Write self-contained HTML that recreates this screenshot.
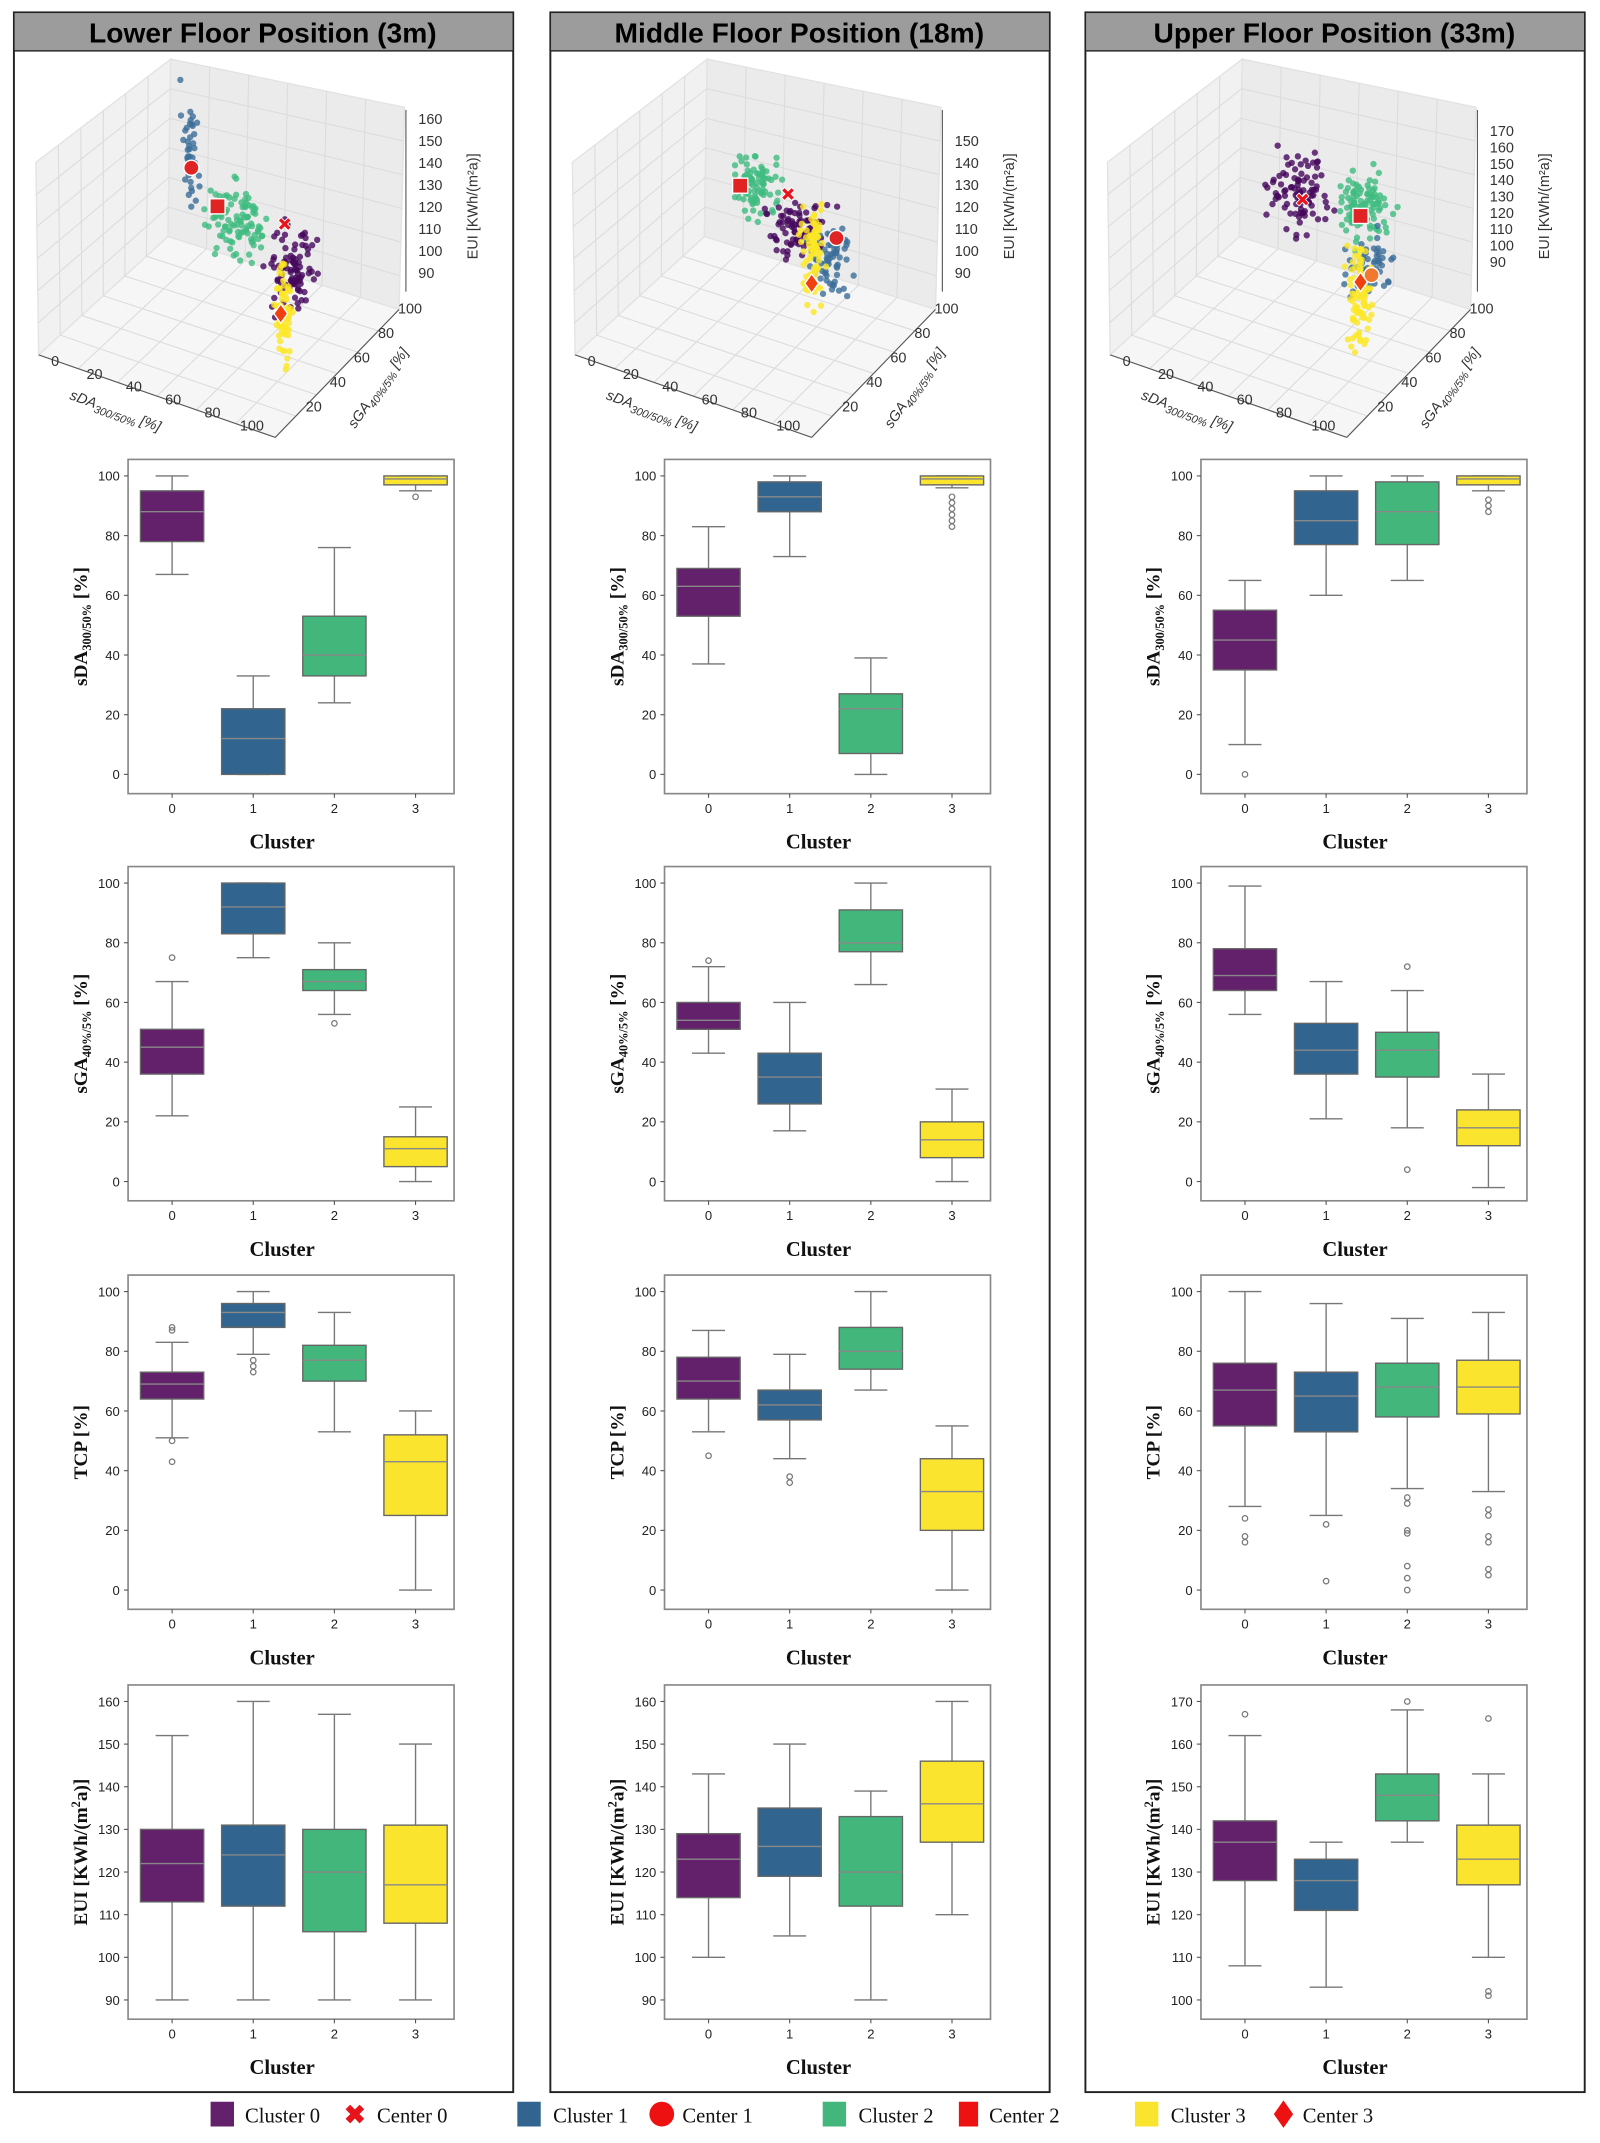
<!DOCTYPE html>
<html><head><meta charset="utf-8">
<style>
html,body{margin:0;padding:0;background:#fff;}
svg{display:block;}
.tk{font-family:"Liberation Sans",sans-serif;font-size:9.5px;fill:#222;}
.cl{font-family:"Liberation Serif",serif;font-size:15px;font-weight:bold;fill:#111;}
.yl{font-family:"Liberation Serif",serif;font-size:14px;font-weight:bold;fill:#111;}
.hd{font-family:"Liberation Sans",sans-serif;font-size:20.5px;font-weight:bold;fill:#000;}
.lg{font-family:"Liberation Serif",serif;font-size:15px;fill:#111;}
.t3{font-family:"Liberation Sans",sans-serif;font-size:10.5px;fill:#333;}
</style></head>
<body>
<svg id="s" xmlns="http://www.w3.org/2000/svg" width="1600" height="2143" viewBox="0 0 1163 1558">
<rect width="1163" height="1558" fill="#fff"/>
<rect x="10" y="9" width="363" height="1512" fill="none" stroke="#222" stroke-width="1.4"/>
<rect x="400" y="9" width="363" height="1512" fill="none" stroke="#222" stroke-width="1.4"/>
<rect x="789" y="9" width="363" height="1512" fill="none" stroke="#222" stroke-width="1.4"/>
<rect x="10" y="9" width="363" height="28" fill="#9c9c9c" stroke="#222" stroke-width="1"/>
<rect x="400" y="9" width="363" height="28" fill="#9c9c9c" stroke="#222" stroke-width="1"/>
<rect x="789" y="9" width="363" height="28" fill="#9c9c9c" stroke="#222" stroke-width="1"/>
<text class="hd" x="191" y="31" text-anchor="middle">Lower Floor Position (3m)</text>
<text class="hd" x="581" y="31" text-anchor="middle">Middle Floor Position (18m)</text>
<text class="hd" x="970" y="31" text-anchor="middle">Upper Floor Position (33m)</text>
<g id="g"></g>
<g>
<rect x="153" y="1528" width="17" height="18" fill="#63206b"/><text class="lg" x="178" y="1543">Cluster 0</text>
<text x="250" y="1544" font-family="Liberation Sans,sans-serif" font-size="19" font-weight="bold" fill="#e8141b">✖</text><text class="lg" x="274" y="1543">Center 0</text>
<rect x="376" y="1528" width="17" height="18" fill="#31658f"/><text class="lg" x="402" y="1543">Cluster 1</text>
<circle cx="481" cy="1537" r="9" fill="#ee1111"/><text class="lg" x="496" y="1543">Center 1</text>
<rect x="598" y="1528" width="17" height="18" fill="#43b67c"/><text class="lg" x="624" y="1543">Cluster 2</text>
<rect x="697" y="1528" width="14" height="18" fill="#ee1111"/><text class="lg" x="719" y="1543">Center 2</text>
<rect x="825" y="1528" width="17" height="18" fill="#fbe42d"/><text class="lg" x="851" y="1543">Cluster 3</text>
<polygon points="933,1527 940,1537 933,1547 926,1537" fill="#ee1111"/><text class="lg" x="947" y="1543">Center 3</text>
</g>
</svg>
<script>
var NS="http://www.w3.org/2000/svg",G=document.getElementById("g");
function el(t,a,txt){var e=document.createElementNS(NS,t);for(var k in a)e.setAttribute(k,a[k]);if(txt!=null)e.textContent=txt;G.appendChild(e);return e;}
function html(s){var d=document.createElementNS(NS,"g");d.innerHTML=s;G.appendChild(d);}
var C=["#63206b","#31658f","#43b67c","#fbe42d"];
var SC=["#46085c","#3b6e98","#3fbb80","#fde725"];
var seed=7;function rnd(){seed=(seed*16807)%2147483647;return seed/2147483647;}
function gauss(){return (rnd()+rnd()+rnd()-1.5);}
function scatter(ox,zt,zlab,clusters,centers){
  var A=[28+ox,258],B=[200+ox,318],Cc=[290+ox,225],D=[122+ox,172],Dt=[124+ox,43],At=[26+ox,118],Ct=[294+ox,78];
  function P(p){return p.map(function(q){return q[0]+","+q[1];}).join(" ");}
  el("polygon",{points:P([A,D,Dt,At]),fill:"#f1f1f1",stroke:"#e3e3e3"});
  el("polygon",{points:P([D,Cc,Ct,Dt]),fill:"#ebebeb",stroke:"#e3e3e3"});
  el("polygon",{points:P([A,B,Cc,D]),fill:"#f6f6f6",stroke:"#e3e3e3"});
  var i,t;
  for(i=1;i<6;i++){t=i/6;
    el("line",{x1:A[0]+(B[0]-A[0])*t,y1:A[1]+(B[1]-A[1])*t,x2:D[0]+(Cc[0]-D[0])*t,y2:D[1]+(Cc[1]-D[1])*t,stroke:"#dcdcdc","stroke-width":0.8});
    el("line",{x1:A[0]+(D[0]-A[0])*t,y1:A[1]+(D[1]-A[1])*t,x2:B[0]+(Cc[0]-B[0])*t,y2:B[1]+(Cc[1]-B[1])*t,stroke:"#dcdcdc","stroke-width":0.8});
    el("line",{x1:A[0]+(D[0]-A[0])*t,y1:A[1]+(D[1]-A[1])*t,x2:At[0]+(Dt[0]-At[0])*t,y2:At[1]+(Dt[1]-At[1])*t,stroke:"#dcdcdc","stroke-width":0.8});
    el("line",{x1:D[0]+(Cc[0]-D[0])*t,y1:D[1]+(Cc[1]-D[1])*t,x2:Dt[0]+(Ct[0]-Dt[0])*t,y2:Dt[1]+(Ct[1]-Dt[1])*t,stroke:"#dcdcdc","stroke-width":0.8});
    el("polyline",{points:P([[A[0]+(At[0]-A[0])*t,A[1]+(At[1]-A[1])*t],[D[0]+(Dt[0]-D[0])*t,D[1]+(Dt[1]-D[1])*t],[Cc[0]+(Ct[0]-Cc[0])*t,Cc[1]+(Ct[1]-Cc[1])*t]]),fill:"none",stroke:"#dcdcdc","stroke-width":0.8});
  }
  el("line",{x1:A[0],y1:A[1],x2:B[0],y2:B[1],stroke:"#555","stroke-width":0.8});
  el("line",{x1:B[0],y1:B[1],x2:Cc[0],y2:Cc[1],stroke:"#555","stroke-width":0.8});
  el("line",{x1:295+ox,y1:80,x2:295+ox,y2:212,stroke:"#555","stroke-width":0.8});
  var n=zt.length;for(i=0;i<n;i++){var y=zlab[0]+(zlab[1]-zlab[0])*i/(n-1);el("text",{class:"t3",x:304+ox,y:y+4},zt[i]);}
  el("text",{class:"t3",x:0,y:0,transform:"translate("+(347+ox)+",150) rotate(-90)","text-anchor":"middle","font-size":"11.5"},"EUI  [KWh/(m²a)]");
  var xt=["0","20","40","60","80","100"];
  for(i=0;i<6;i++){el("text",{class:"t3",x:40+ox+i*28.6,y:266+i*9.4,"text-anchor":"middle"},xt[i]);}
  var yt=["100","80","60","40","20"];
  for(i=0;i<5;i++){el("text",{class:"t3",x:298+ox-i*17.5,y:228+i*17.8,"text-anchor":"middle"},yt[i]);}
  html('<text class="t3" font-style="italic" font-size="11.5" transform="translate('+(50+ox)+',290) rotate(20)">sDA<tspan font-size="8" dy="3">300/50%</tspan><tspan dy="-3"> [%]</tspan></text>');
  html('<text class="t3" font-style="italic" font-size="11.5" transform="translate('+(258+ox)+',312) rotate(-55)">sGA<tspan font-size="8" dy="3">40%/5%</tspan><tspan dy="-3"> [%]</tspan></text>');
  clusters.forEach(function(c){for(var k=0;k<c.n;k++){el("circle",{cx:c.x+gauss()*c.rx*0.8,cy:c.y+gauss()*c.ry*0.8,r:2.3,fill:SC[c.c],opacity:0.8});}});
  centers.forEach(function(c){
    if(c.t=="x"){el("text",{x:c.x-6,y:c.y+5,"font-size":"14","font-weight":"bold",fill:"#e8141b",stroke:"#fff","stroke-width":0.6,"font-family":"DejaVu Sans,sans-serif"},"✖");}
    if(c.t=="o")el("circle",{cx:c.x,cy:c.y,r:5.5,fill:c.f||"#e02424",stroke:"#fff","stroke-width":1});
    if(c.t=="s")el("rect",{x:c.x-5.5,y:c.y-5.5,width:11,height:11,fill:"#e02424",stroke:"#fff","stroke-width":1});
    if(c.t=="d")el("polygon",{points:(c.x)+","+(c.y-7)+" "+(c.x+5)+","+c.y+" "+c.x+","+(c.y+7)+" "+(c.x-5)+","+c.y,fill:"#f04010",stroke:"#fff","stroke-width":1});
  });
}
scatter(0,["160","150","140","130","120","110","100","90"],[86,198],
 [{c:1,n:40,x:138,y:110,rx:7,ry:50},{c:2,n:100,x:172,y:160,rx:26,ry:32},{c:0,n:90,x:212,y:195,rx:20,ry:38},{c:3,n:80,x:206,y:225,rx:7,ry:42}],
 [{t:"o",x:139,y:122},{t:"s",x:158,y:150},{t:"x",x:207,y:163},{t:"d",x:204,y:228}]);
scatter(390,["150","140","130","120","110","100","90"],[102,198],
 [{c:2,n:80,x:550,y:135,rx:20,ry:26},{c:0,n:80,x:580,y:165,rx:26,ry:28},{c:1,n:60,x:605,y:190,rx:20,ry:30},{c:3,n:80,x:590,y:185,rx:10,ry:40}],
 [{t:"s",x:538,y:135},{t:"x",x:573,y:141},{t:"o",x:608,y:173},{t:"d",x:590,y:206}]);
scatter(779,["170","160","150","140","130","120","110","100","90"],[95,190],
 [{c:0,n:90,x:945,y:140,rx:30,ry:40},{c:2,n:100,x:990,y:150,rx:24,ry:30},{c:1,n:60,x:995,y:195,rx:20,ry:28},{c:3,n:90,x:988,y:215,rx:10,ry:45}],
 [{t:"x",x:947,y:145},{t:"s",x:989,y:157},{t:"o",x:997,y:200,f:"#f07830"},{t:"d",x:989,y:205}]);
var XO=[93,483,873],YO=[334,630,927,1225];
var D={
 "0,0":[[67,78,88,95,100,[]],[0,0,12,22,33,[]],[24,33,40,53,76,[]],[95,97,99,100,100,[93]]],
 "1,0":[[37,53,63,69,83,[]],[73,88,93,98,100,[]],[0,7,22,27,39,[]],[96,97,99,100,100,[83,85,87,89,91,93]]],
 "2,0":[[10,35,45,55,65,[0]],[60,77,85,95,100,[]],[65,77,88,98,100,[]],[95,97,99,100,100,[88,90,92]]],
 "0,1":[[22,36,45,51,67,[75]],[75,83,92,100,100,[]],[56,64,67,71,80,[53]],[0,5,11,15,25,[]]],
 "1,1":[[43,51,54,60,72,[74]],[17,26,35,43,60,[]],[66,77,80,91,100,[]],[0,8,14,20,31,[]]],
 "2,1":[[56,64,69,78,99,[]],[21,36,44,53,67,[]],[18,35,44,50,64,[72,4]],[-2,12,18,24,36,[]]],
 "0,2":[[51,64,69,73,83,[87,88,50,43]],[79,88,93,96,100,[77,75,73]],[53,70,77,82,93,[]],[0,25,43,52,60,[]]],
 "1,2":[[53,64,70,78,87,[45]],[44,57,62,67,79,[38,36]],[67,74,80,88,100,[]],[0,20,33,44,55,[]]],
 "2,2":[[28,55,67,76,100,[24,18,16]],[25,53,65,73,96,[22,3]],[34,58,68,76,91,[31,29,20,19,8,4,0]],[33,59,68,77,93,[27,25,18,16,7,5]]],
 "0,3":[[90,113,122,130,152,[]],[90,112,124,131,160,[]],[90,106,120,130,157,[]],[90,108,117,131,150,[]]],
 "1,3":[[100,114,123,129,143,[]],[105,119,126,135,150,[]],[90,112,120,133,139,[]],[110,127,136,146,160,[]]],
 "2,3":[[108,128,137,142,162,[167]],[103,121,128,133,137,[]],[137,142,148,153,168,[170]],[110,127,133,141,153,[166,102,101]]]
};
var YL=['sDA<tspan font-size="9" dy="3">300/50%</tspan><tspan dy="-3">  [%]</tspan>','sGA<tspan font-size="9" dy="3">40%/5%</tspan><tspan dy="-3">  [%]</tspan>','TCP [%]','EUI  [KWh/(m<tspan font-size="9" dy="-5">2</tspan><tspan dy="5">a)]</tspan>'];
for(var col=0;col<3;col++)for(var row=0;row<4;row++){
  var x0=XO[col],y0=YO[row],w=237,h=243;
  var mn=0,mx=100,ticks=[0,20,40,60,80,100];
  if(row==3){if(col==2){mn=100;mx=170;ticks=[100,110,120,130,140,150,160,170];}else{mn=90;mx=160;ticks=[90,100,110,120,130,140,150,160];}}
  var yb=y0+229,yt=y0+12;
  var Y=function(v){return yb-(v-mn)/(mx-mn)*(yb-yt);};
  el("rect",{x:x0,y:y0,width:w,height:h,fill:"#fff",stroke:"#888","stroke-width":1.2});
  ticks.forEach(function(v){var y=Y(v);el("line",{x1:x0-3,y1:y,x2:x0,y2:y,stroke:"#555","stroke-width":0.8});el("text",{class:"tk",x:x0-6,y:y+3.5,"text-anchor":"end"},v);});
  var data=D[col+","+row];
  for(var i=0;i<4;i++){
    var cx=x0+32+59*i,d=data[i];
    el("line",{x1:cx,y1:y0+h,x2:cx,y2:y0+h+3,stroke:"#555","stroke-width":0.8});
    el("text",{class:"tk",x:cx,y:y0+h+14,"text-anchor":"middle"},i);
    el("line",{x1:cx,y1:Y(d[0]),x2:cx,y2:Y(d[4]),stroke:"#777","stroke-width":1});
    el("line",{x1:cx-12,y1:Y(d[0]),x2:cx+12,y2:Y(d[0]),stroke:"#777","stroke-width":1});
    el("line",{x1:cx-12,y1:Y(d[4]),x2:cx+12,y2:Y(d[4]),stroke:"#777","stroke-width":1});
    var yq3=Y(d[3]),yq1=Y(d[1]);
    el("rect",{x:cx-23,y:yq3,width:46,height:Math.max(yq1-yq3,1),fill:C[i],stroke:"#666","stroke-width":1});
    el("line",{x1:cx-23,y1:Y(d[2]),x2:cx+23,y2:Y(d[2]),stroke:"#888","stroke-width":1});
    d[5].forEach(function(o){el("circle",{cx:cx,cy:Y(o),r:2,fill:"none",stroke:"#777","stroke-width":0.9});});
  }
  el("text",{class:"cl",x:x0+112,y:y0+283,"text-anchor":"middle"},"Cluster");
  html('<text class="yl" text-anchor="middle" transform="translate('+(x0-30)+','+(y0+h/2)+') rotate(-90)">'+YL[row]+'</text>');
}
</script>
</body></html>
